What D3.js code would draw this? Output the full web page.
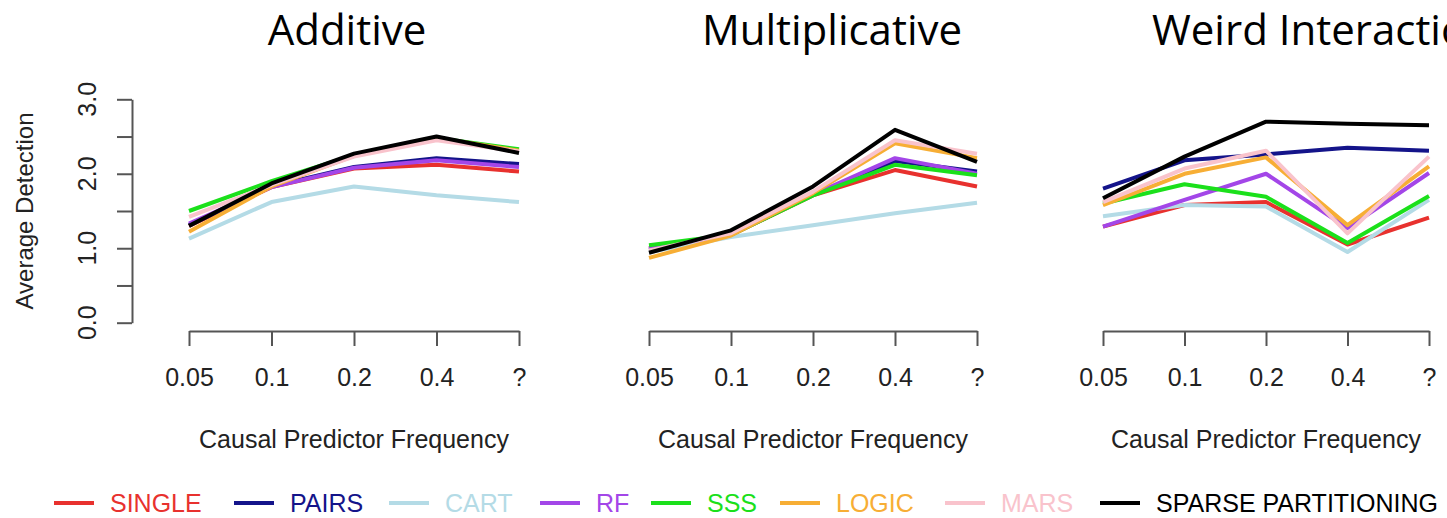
<!DOCTYPE html>
<html>
<head>
<meta charset="utf-8">
<script src="https://cdn.jsdelivr.net/npm/d3@7"></script>
<style>
  body { margin: 0; background: #fff; }
  svg { display: block; }
</style>
</head>
<body>
<svg width="1447" height="518"></svg>
<script>
// categories on the x axis
const categories = ["0.05", "0.1", "0.2", "0.4", "?"];
const methods = ["SINGLE", "PAIRS", "CART", "RF", "SSS", "LOGIC", "MARS", "SPARSE PARTITIONING"];
const colors = ["#e8312e", "#14148a", "#b4dbe6", "#a346e8", "#1be01b", "#f7ae35", "#f9c3cc", "#000000"];
const panelTitles = ["Additive", "Multiplicative", "Weird Interaction"];
const yTicks = [0, 0.5, 1, 1.5, 2, 2.5, 3];
const yLabels = ["0.0", "1.0", "2.0", "3.0"];

// average detection, one row per method (same order as methods)
const additive = [
  [1.30, 1.82, 2.07, 2.12, 2.03],
  [1.31, 1.83, 2.09, 2.21, 2.13],
  [1.13, 1.62, 1.83, 1.71, 1.62],
  [1.33, 1.82, 2.08, 2.18, 2.09],
  [1.50, 1.90, 2.25, 2.48, 2.33],
  [1.22, 1.83, 2.24, 2.48, 2.31],
  [1.42, 1.85, 2.23, 2.45, 2.30],
  [1.30, 1.87, 2.27, 2.50, 2.28]
];
const multiplicative = [
  [1.00, 1.18, 1.71, 2.05, 1.83],
  [0.98, 1.18, 1.72, 2.17, 2.03],
  [0.95, 1.15, 1.31, 1.47, 1.61],
  [1.00, 1.18, 1.72, 2.21, 2.00],
  [1.04, 1.18, 1.71, 2.12, 1.98],
  [0.87, 1.17, 1.74, 2.41, 2.21],
  [0.97, 1.20, 1.76, 2.45, 2.27],
  [0.94, 1.24, 1.83, 2.59, 2.16]
];
const weird = [
  [1.29, 1.58, 1.62, 1.05, 1.41],
  [1.80, 2.18, 2.26, 2.35, 2.31],
  [1.43, 1.58, 1.56, 0.95, 1.65],
  [1.29, 1.65, 2.00, 1.27, 2.01],
  [1.60, 1.86, 1.69, 1.07, 1.70],
  [1.58, 2.00, 2.22, 1.31, 2.10],
  [1.62, 2.07, 2.31, 1.20, 2.23],
  [1.67, 2.23, 2.70, 2.67, 2.65]
];
const panelData = [additive, multiplicative, weird];

const svg = d3.select("svg");
const axisColor = "#555";

// layout of the three panels
const panels = [
  { x0: 189, x1: 519, title: 347, anchor: "middle" },
  { x0: 649, x1: 977, title: 832, anchor: "middle" },
  { x0: 1103, x1: 1429, title: 1152, anchor: "start" }
];

const yScale = d3.scaleLinear().domain([0, 3]).range([322.7, 99.3]);

const line = d3.line()
  .curve(d3.curveLinear);

panels.forEach((p, k) => {
  const xScale = d3.scalePoint().domain(categories).range([p.x0, p.x1]);

  svg.append("text")
    .attr("x", p.title)
    .attr("y", 45)
    .attr("text-anchor", p.anchor)
    .style("font-family", "'Open Sans', sans-serif")
    .style("font-size", "42px")
    .text(panelTitles[k]);

  const xAxis = svg.append("g")
    .attr("transform", "translate(0,331)")
    .call(d3.axisBottom(xScale).tickSize(15).tickSizeOuter(0).tickPadding(22));
  xAxis.select(".domain").attr("stroke", axisColor).attr("stroke-width", 2);
  xAxis.selectAll(".tick line").attr("stroke", axisColor).attr("stroke-width", 2);
  xAxis.selectAll(".tick text")
    .style("font-family", "'Liberation Sans', Arial, sans-serif")
    .style("font-size", "25px")
    .attr("fill", "#222");

  svg.append("text")
    .attr("x", (p.x0 + p.x1) / 2)
    .attr("y", 448)
    .attr("text-anchor", "middle")
    .style("font-family", "'Liberation Sans', Arial, sans-serif")
    .style("font-size", "25px")
    .attr("fill", "#222")
    .text("Causal Predictor Frequency");

  line.x((d, i) => xScale(categories[i])).y(d => yScale(d));

  svg.append("g")
    .selectAll("path")
    .data(panelData[k])
    .enter()
    .append("path")
    .attr("d", d => line(d))
    .attr("fill", "none")
    .attr("stroke", (d, i) => colors[i])
    .attr("stroke-width", 4)
    .attr("stroke-linejoin", "round");
});

// y axis only on the first panel
const yAxis = svg.append("g")
  .attr("transform", "translate(132,0)")
  .call(d3.axisLeft(yScale).tickValues(yTicks).tickSize(15).tickSizeOuter(0).tickFormat(""));
yAxis.select(".domain").attr("stroke", axisColor).attr("stroke-width", 2);
yAxis.selectAll(".tick line").attr("stroke", axisColor).attr("stroke-width", 2);

svg.append("g")
  .selectAll("text")
  .data(yLabels)
  .enter()
  .append("text")
  .attr("transform", d => `translate(96,${yScale(+d)}) rotate(-90)`)
  .attr("text-anchor", "middle")
  .style("font-family", "'Liberation Sans', Arial, sans-serif")
  .style("font-size", "25px")
  .attr("fill", "#222")
  .text(d => d);

svg.append("text")
  .attr("transform", `translate(33,${yScale(1.5)}) rotate(-90)`)
  .attr("text-anchor", "middle")
  .style("font-family", "'Liberation Sans', Arial, sans-serif")
  .style("font-size", "24px")
  .attr("fill", "#222")
  .text("Average Detection");

// legend
const legendX = [54, 234, 389, 540, 651, 780, 945, 1100];
const legend = svg.append("g");
methods.forEach((m, i) => {
  legend.append("line")
    .attr("x1", legendX[i]).attr("x2", legendX[i] + 40)
    .attr("y1", 503).attr("y2", 503)
    .attr("stroke", colors[i])
    .attr("stroke-width", 4);
  legend.append("text")
    .attr("x", legendX[i] + 56)
    .attr("y", 512)
    .style("font-family", "'Liberation Sans', Arial, sans-serif")
    .style("font-size", "25px")
    .attr("fill", colors[i])
    .text(m);
});
</script>
</body>
</html>
